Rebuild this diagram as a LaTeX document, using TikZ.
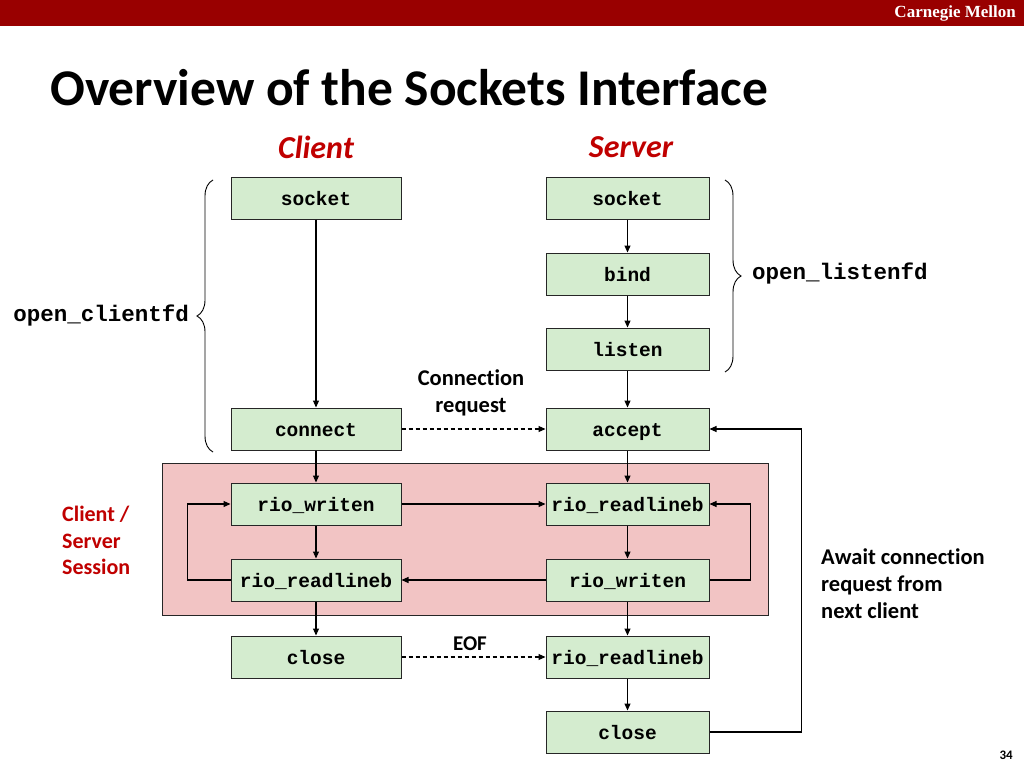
\documentclass[tikz,border=0pt]{standalone}
\usepackage{fontspec}
\setmainfont{Carlito}[Ligatures=NoCommon]
\setmonofont{Liberation Mono}
\newfontfamily\cmufont{Liberation Serif}
\usepackage{tikz}
\usetikzlibrary{arrows.meta,decorations.pathreplacing}
\definecolor{cmured}{HTML}{990000}
\definecolor{labelred}{HTML}{C00000}
\definecolor{boxgreen}{HTML}{D4ECCF}
\definecolor{sessionpink}{HTML}{F2C4C4}

\begin{document}
\begin{tikzpicture}[x=1pt,y=-1pt,
        fnbox/.style={draw=black!85,fill=boxgreen,line width=1pt,minimum height=42pt,inner sep=0pt,
            text height=15pt,text depth=0pt,font=\ttfamily\bfseries\fontsize{19.5}{23}\selectfont},
        cbox/.style={fnbox,minimum width=170pt},
        sbox/.style={fnbox,minimum width=163pt},
        flow/.style={line width=1.1pt,-{Triangle[length=7pt,width=6pt]}},
        msg/.style={flow,dashed,dash pattern=on 4pt off 3pt},
        note/.style={font=\bfseries\fontsize{22.5}{27}\selectfont,align=left,inner sep=0pt}]
    \useasboundingbox (0,0) rectangle (1024,768);
    % Header bar
    \fill[cmured] (0,0) rectangle (1024,26);
    \node[anchor=east,text=white,inner sep=0pt,font=\cmufont\bfseries\fontsize{17}{20}\selectfont] (brand) at (1016,13) {Carnegie Mellon};
    % Title
    \node[anchor=base west,inner sep=0pt,font=\bfseries\fontsize{51.5}{60}\selectfont] (title) at (50,105) {Overview of the Sockets Interface};
    \node[text=labelred,font=\bfseries\itshape\fontsize{32}{36}\selectfont] (client) at (316,147) {Client};
    \node[text=labelred,font=\bfseries\itshape\fontsize{32}{36}\selectfont] (server) at (631,147) {Server};
    % Session area
    \draw[fill=sessionpink,draw=black!85,line width=1pt] (162,463) rectangle (768,615);
    \node[note,text=labelred,anchor=north west,font=\bfseries\fontsize{22}{26.5}\selectfont] (session) at (62,506) {Client /\\Server\\Session};
    % Client boxes
    \node[cbox] (cSocket) at (316,198) {socket};
    \node[cbox] (cConnect) at (316,429) {connect};
    \node[cbox] (cWrite) at (316,504) {rio\_writen};
    \node[cbox] (cRead) at (316,580) {rio\_readlineb};
    \node[cbox] (cClose) at (316,657) {close};
    % Server boxes
    \foreach \name/\y/\txt in {sSocket/198/socket,sBind/274/bind,sListen/349/listen,sAccept/429/accept,
            sRead/504/rio\_readlineb,sWrite/580/rio\_writen,sReadEOF/657/rio\_readlineb,sClose/732/close}
        {\node[sbox] (\name) at (627.5,\y) {\txt};}
    % Client arrows
    \foreach \a/\b in {cSocket/cConnect,cConnect/cWrite,cWrite/cRead,cRead/cClose}
        {\draw[flow] (\a) -- (\b);}
    % Server arrows
    \foreach \a/\b in {sSocket/sBind,sBind/sListen,sListen/sAccept,sAccept/sRead,sRead/sWrite,sWrite/sReadEOF,sReadEOF/sClose}
        {\draw[flow] (\a) -- (\b);}
    % Session traffic
    \draw[flow] (cWrite) -- (sRead);
    \draw[flow] (sWrite) -- (cRead);
    \draw[flow] (cRead.west) -- ++(-43,0) |- (cWrite.west);
    \draw[flow] (sWrite.east) -- ++(41,0) |- (sRead.east);
    % Dashed messages
    \draw[msg] (cConnect) -- (sAccept);
    \node[note,align=center] (reqlabel) at (471,393) {Connection\\request};
    \draw[msg] (cClose) -- (sReadEOF);
    \node[note,font=\bfseries\fontsize{21}{27}\selectfont] (eof) at (470,644) {EOF};
    % Back to accept
    \draw[flow] (sClose.east) -- ++(92,0) |- (sAccept.east);
    \node[note,anchor=north west] (await) at (821,549) {Await connection\\request from\\next client};
    % Braces
    \draw[line width=0.9pt,decorate,decoration={brace,amplitude=16pt}] (213,452) -- (213,180);
    \node[anchor=east,inner sep=0pt,font=\ttfamily\bfseries\fontsize{22.5}{26}\selectfont] (clientfd) at (189,316) {open\_clientfd};
    \draw[line width=0.9pt,decorate,decoration={brace,amplitude=16pt}] (725,180) -- (725,372);
    \node[anchor=west,inner sep=0pt,font=\ttfamily\bfseries\fontsize{22.5}{26}\selectfont] (listenfd) at (752,274) {open\_listenfd};
    % Page number
    \node[anchor=east,inner sep=0pt,font=\bfseries\fontsize{13}{15}\selectfont] (pageno) at (1013,755) {34};
\end{tikzpicture}
\end{document}
